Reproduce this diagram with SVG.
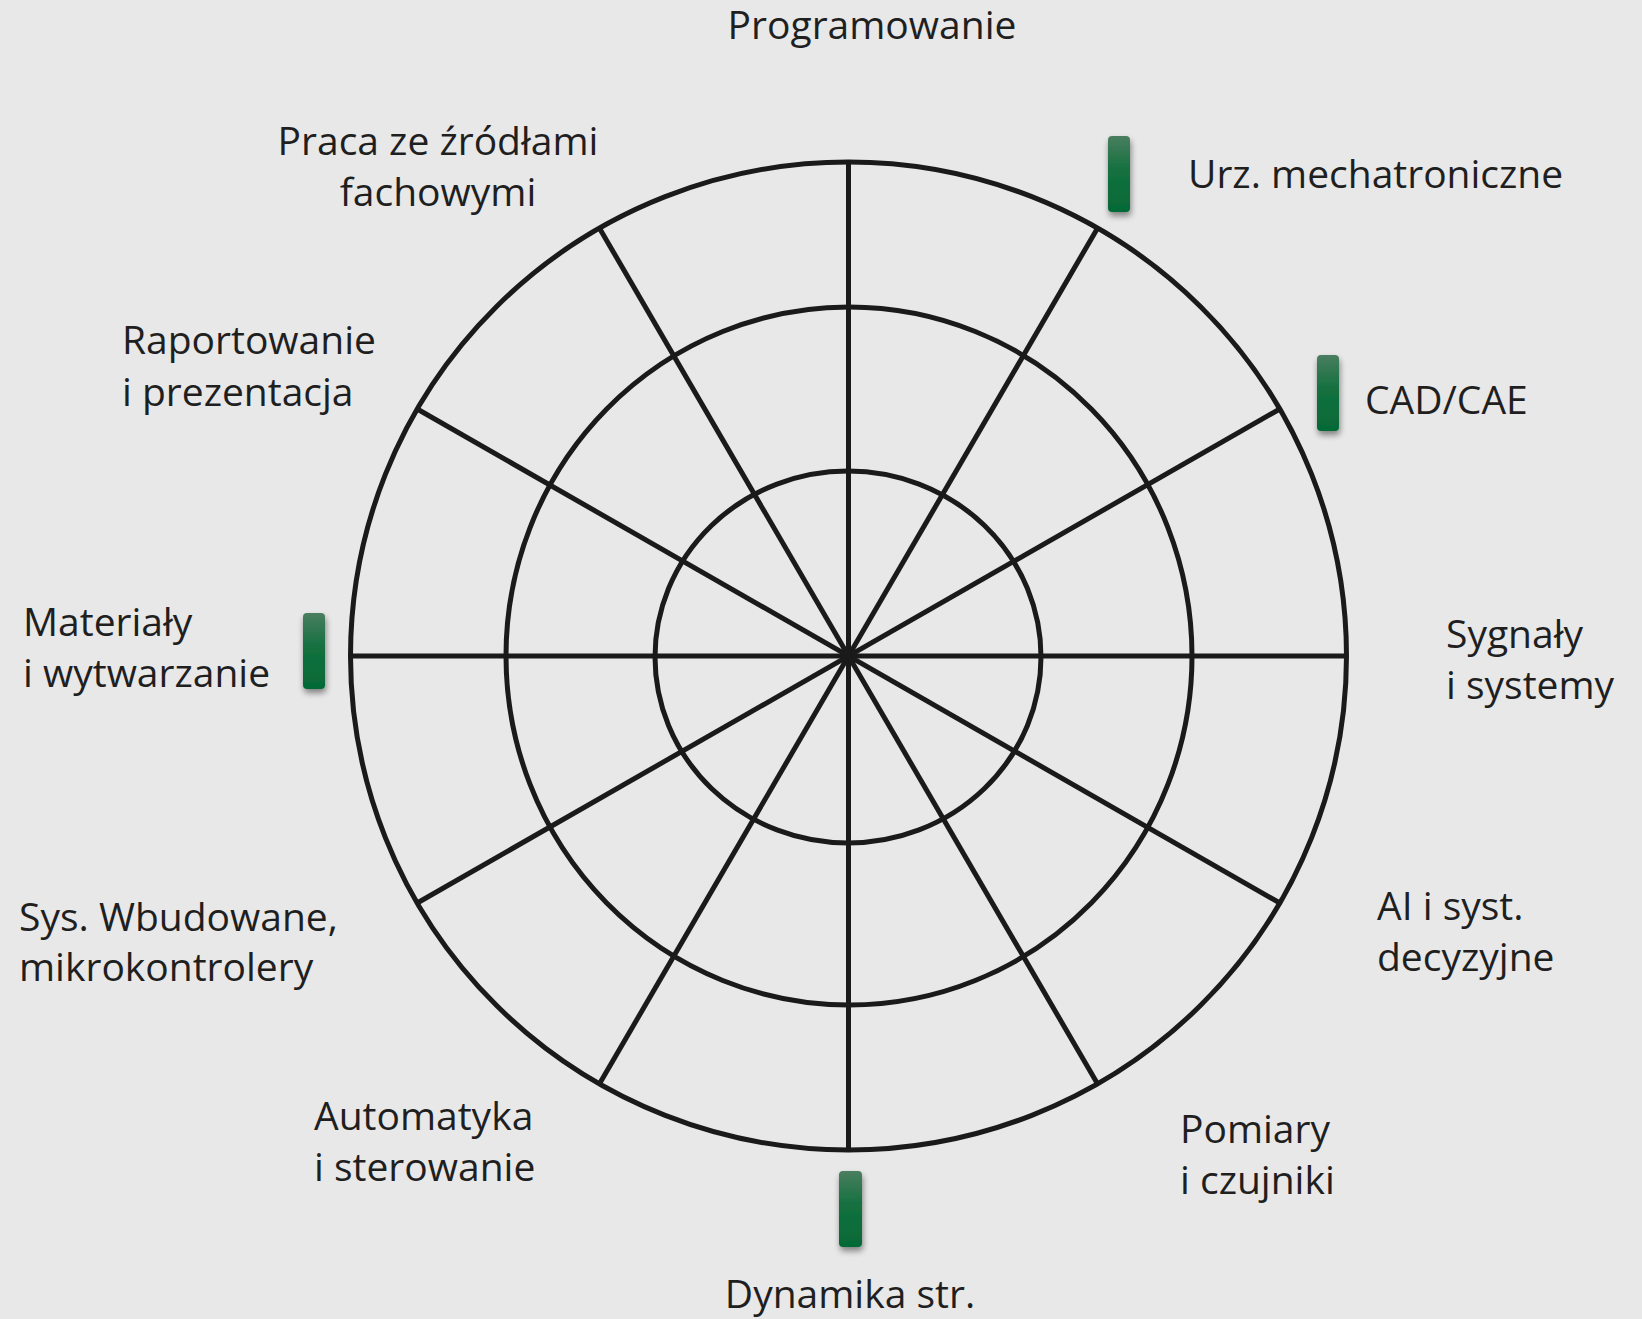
<svg xmlns="http://www.w3.org/2000/svg" width="1642" height="1319" viewBox="0 0 1642 1319">
<defs>
<linearGradient id="g" x1="0" y1="0" x2="0" y2="1">
<stop offset="0" stop-color="#4a7e5f"/>
<stop offset="0.45" stop-color="#14703f"/>
<stop offset="1" stop-color="#046a36"/>
</linearGradient>
<filter id="sh" x="-60%" y="-30%" width="220%" height="160%">
<feGaussianBlur in="SourceAlpha" stdDeviation="3"/>
<feOffset dx="1" dy="4" result="b"/>
<feComponentTransfer><feFuncA type="linear" slope="0.45"/></feComponentTransfer>
<feMerge><feMergeNode/><feMergeNode in="SourceGraphic"/></feMerge>
</filter>
</defs>
<style>
.ring{fill:none;stroke:#1a1a1a;stroke-width:5}
.spoke{stroke:#1a1a1a;stroke-width:5}
.lbl{font-family:"Open Sans","Noto Sans",sans-serif;font-size:39px;fill:#1f1f1f}
.mk{fill:url(#g);filter:url(#sh)}
</style>
<rect width="1642" height="1319" fill="#e8e8e8"/>
<g id="wheel">
<ellipse class="ring" cx="848.5" cy="656" rx="498" ry="494"/>
<ellipse class="ring" cx="849" cy="656" rx="343" ry="349"/>
<ellipse class="ring" cx="848" cy="657" rx="193" ry="186"/>
</g>
<g id="connectors">
<line class="spoke" x1="848.5" y1="162" x2="848.5" y2="1150"/>
<line class="spoke" x1="1097.5" y1="228.2" x2="599.5" y2="1083.8"/>
<line class="spoke" x1="1279.8" y1="409" x2="417.2" y2="903"/>
<line class="spoke" x1="350.5" y1="656" x2="1346.5" y2="656"/>
<line class="spoke" x1="1279.8" y1="903" x2="417.2" y2="409"/>
<line class="spoke" x1="1097.5" y1="1083.8" x2="599.5" y2="228.2"/>
</g>
<g id="markers">
<rect class="mk" x="1108" y="136" width="22" height="76" rx="4"/>
<rect class="mk" x="1317" y="355" width="22" height="76" rx="4"/>
<rect class="mk" x="303" y="613" width="22" height="76" rx="4"/>
<rect class="mk" x="839" y="1171" width="23" height="76" rx="4"/>
</g>
<g id="n-programowanie"><text class="lbl" x="872" y="39" text-anchor="middle">Programowanie</text></g>
<g id="n-praca"><text class="lbl" x="438" y="155" text-anchor="middle">Praca ze źródłami</text><text class="lbl" x="438" y="206" text-anchor="middle">fachowymi</text></g>
<g id="n-urz"><text class="lbl" x="1188" y="188">Urz. mechatroniczne</text></g>
<g id="n-cad"><text class="lbl" x="1365" y="414">CAD/CAE</text></g>
<g id="n-raport"><text class="lbl" x="122" y="354">Raportowanie</text><text class="lbl" x="122" y="406">i prezentacja</text></g>
<g id="n-materialy"><text class="lbl" x="23" y="636">Materiały</text><text class="lbl" x="23" y="687">i wytwarzanie</text></g>
<g id="n-sygnaly"><text class="lbl" x="1446" y="648">Sygnały</text><text class="lbl" x="1446" y="699">i systemy</text></g>
<g id="n-sys"><text class="lbl" x="19" y="931">Sys. Wbudowane,</text><text class="lbl" x="19" y="981">mikrokontrolery</text></g>
<g id="n-ai"><text class="lbl" x="1377" y="920">AI i syst.</text><text class="lbl" x="1377" y="971">decyzyjne</text></g>
<g id="n-automatyka"><text class="lbl" x="314" y="1130">Automatyka</text><text class="lbl" x="314" y="1181">i sterowanie</text></g>
<g id="n-pomiary"><text class="lbl" x="1180" y="1143">Pomiary</text><text class="lbl" x="1180" y="1194">i czujniki</text></g>
<g id="n-dynamika"><text class="lbl" x="850" y="1308" text-anchor="middle">Dynamika str.</text></g>
</svg>
